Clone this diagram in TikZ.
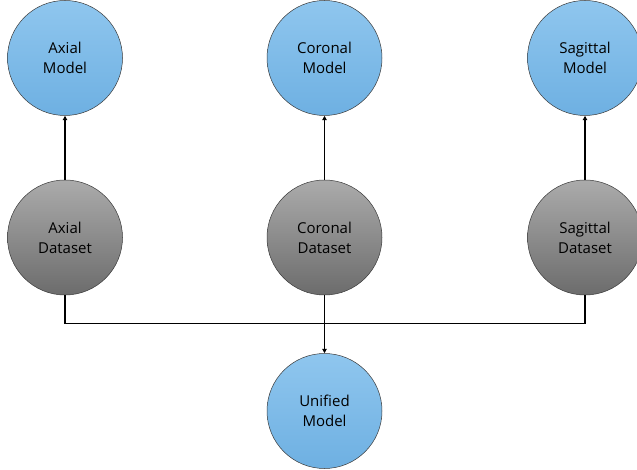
\documentclass[tikz,border=0pt]{standalone}
\usepackage{fontspec}
\setmainfont{Open Sans}
\usepackage{tikz}
\usetikzlibrary{arrows.meta,positioning}
\definecolor{mdltop}{HTML}{8FC6EE}
\definecolor{mdlbot}{HTML}{6EB0E2}
\definecolor{dsttop}{HTML}{ABABAB}
\definecolor{dstbot}{HTML}{6C6C6C}
\definecolor{edge}{HTML}{3A3A3A}
\tikzset{
  circ/.style={circle, minimum size=115pt, inner sep=0pt, align=center,
               draw=edge, line width=0.5pt,
               font=\fontsize{15}{20}\selectfont},
  mdl/.style={circ, top color=mdltop, bottom color=mdlbot},
  dst/.style={circ, top color=dsttop, bottom color=dstbot},
  ar/.style={-{Triangle[length=4.5pt,width=4.5pt]}, line width=1.2pt, draw=black},
  bus/.style={line width=1.2pt, draw=black},
}
\begin{document}
\begin{tikzpicture}[x=1pt, y=1pt]
\useasboundingbox (0,0) rectangle (637,469);

% ---- models ----
\node[mdl] at (65,411) (axm) {Axial\\Model};
\node[mdl, right=144pt of axm] (corm) {Coronal\\Model};
\node[mdl, right=145pt of corm] (sagm) {Sagittal\\Model};

% ---- datasets ----
\node[dst, below=64pt of axm] (axd) {Axial\\Dataset};
\node[dst, below=64pt of corm] (cord) {Coronal\\Dataset};
\node[dst, below=64pt of sagm] (sagd) {Sagittal\\Dataset};

% ---- unified ----
\node[mdl, below=58pt of cord] (uni) {Unified\\Model};

% ---- connectors ----
\draw[ar] (axd) -- (axm);
\draw[ar] (cord) -- (corm);
\draw[ar] (sagd) -- (sagm);

\coordinate (busl) at ([yshift=-28pt]axd.south);
\draw[bus] (axd.south) -- (busl) -| (sagd.south);
\draw[ar] (cord.south) -- (uni.north);

\end{tikzpicture}
\end{document}
